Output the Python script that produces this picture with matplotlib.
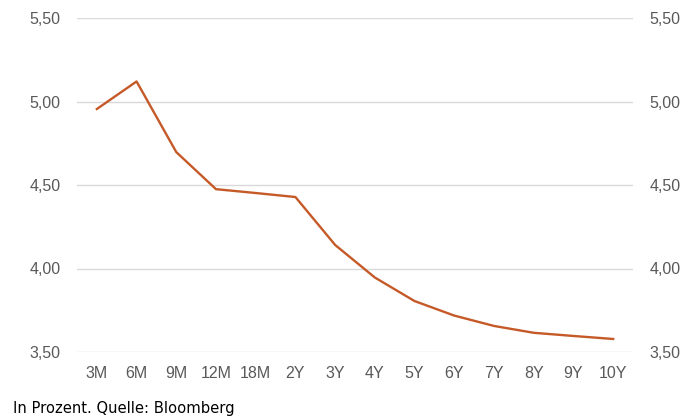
import matplotlib.pyplot as plt
from matplotlib.ticker import FuncFormatter

# Zinskurve nach Laufzeit
laufzeiten = ["3M", "6M", "9M", "12M", "18M", "2Y", "3Y", "4Y", "5Y", "6Y", "7Y", "8Y", "9Y", "10Y"]
rendite = [4.955, 5.12, 4.697, 4.475, 4.452, 4.428, 4.141, 3.946, 3.805, 3.718, 3.656, 3.615, 3.596, 3.578]
y_ticks = [3.5, 4.0, 4.5, 5.0, 5.5]

plt.rcParams["font.family"] = ["Liberation Sans", "DejaVu Sans"]

fig = plt.figure(figsize=(6.98, 4.16), dpi=100)
ax = fig.add_axes([77 / 698, 1 - 352 / 416, (633 - 77) / 698, (352 - 18) / 416])

x = list(range(len(laufzeiten)))
ax.plot(x, rendite, color="#C55A28", linewidth=1.7, zorder=3)

ax.set_xlim(-0.5, len(laufzeiten) - 0.5)
ax.set_ylim(3.5, 5.5)
ax.set_yticks(y_ticks)
ax.set_xticks(x)
ax.set_xticklabels(laufzeiten)

fmt = FuncFormatter(lambda v, p: f"{v:.2f}".replace(".", ","))
ax.yaxis.set_major_formatter(fmt)
ax.grid(axis="y", color="#D9D9D9", linewidth=1.0, zorder=0)

for s in ax.spines.values():
    s.set_visible(False)

ax.tick_params(axis="both", length=0, labelsize=11.5, labelcolor="#595959")
ax.tick_params(axis="y", pad=12, labelright=True)
ax.tick_params(axis="x", pad=10)

fig.text(13 / 698, 1 - 408 / 416, "In Prozent. Quelle: Bloomberg", fontsize=10.6,
         family="DejaVu Sans", color="#000000", va="center", ha="left")

fig.savefig("out.png", dpi=100)
